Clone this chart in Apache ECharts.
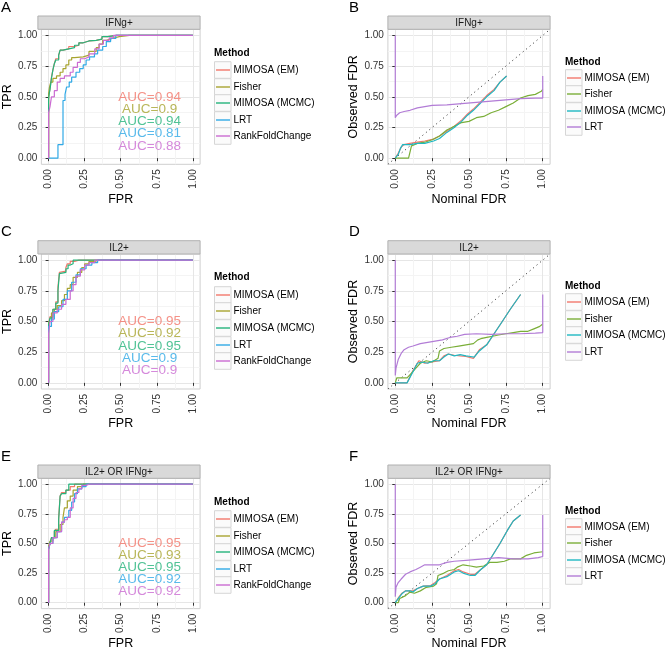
<!DOCTYPE html>
<html><head><meta charset="utf-8">
<script src="https://cdn.jsdelivr.net/npm/echarts@6/dist/echarts.min.js"></script>
<style>html,body{margin:0;padding:0;background:#fff}#c{width:666px;height:651px}</style>
</head><body><div id="c"></div>
<script>
const FONT = '"Liberation Sans", Arial, Helvetica, sans-serif';

// ---------- data ----------
const tickValues = [0, 0.25, 0.5, 0.75, 1];
const tickLabels = ['0.00', '0.25', '0.50', '0.75', '1.00'];
const minorValues = [0.125, 0.375, 0.625, 0.875];
const panelTitles = ['IFNg+', 'IL2+', 'IL2+ OR IFNg+'];
const panelLetters = [['A', 'B'], ['C', 'D'], ['E', 'F']];
const rocMethods = ['MIMOSA (EM)', 'Fisher', 'MIMOSA (MCMC)', 'LRT', 'RankFoldChange'];
const fdrMethods = ['MIMOSA (EM)', 'Fisher', 'MIMOSA (MCMC)', 'LRT'];
const rocColors = ['#F2776A', '#A8A430', '#25B47C', '#30A9E6', '#CB6BD2'];
const fdrColors = ['#F2776C', '#7AAE38', '#1FB8C2', '#B27CD6'];
const aucIFNg = [0.94, 0.9, 0.94, 0.81, 0.88];
const aucIL2 = [0.95, 0.92, 0.95, 0.9, 0.9];
const aucAny = [0.95, 0.93, 0.95, 0.92, 0.92];
const aucX = 0.7;
const aucY = [0.5, 0.4, 0.3, 0.2, 0.1];
const identityLine = [-0.05, 1.05];

// ROC curves [FPR, TPR]
const rocIFNg_EM = [[0,0],[0,0.37],[0.005,0.5],[0.01,0.53],[0.02,0.57],[0.03,0.66],[0.04,0.72],[0.05,0.77],[0.07,0.81],[0.08,0.84],[0.1,0.88],[0.14,0.89],[0.18,0.91],[0.21,0.92],[0.24,0.94],[0.28,0.955],[0.33,0.96],[0.37,0.97],[0.41,0.99],[0.47,1],[1,1]];
const rocIFNg_Fisher = [[0,0],[0,0.45],[0.005,0.52],[0.015,0.57],[0.03,0.62],[0.055,0.65],[0.08,0.67],[0.1,0.7],[0.12,0.73],[0.14,0.76],[0.16,0.8],[0.18,0.82],[0.24,0.825],[0.28,0.84],[0.33,0.87],[0.35,0.9],[0.375,0.93],[0.4,0.96],[0.44,0.975],[0.49,0.99],[0.56,1],[1,1]];
const rocIFNg_MCMC = [[0,0],[0,0.35],[0.005,0.48],[0.01,0.53],[0.02,0.56],[0.03,0.65],[0.04,0.72],[0.05,0.77],[0.07,0.8],[0.08,0.84],[0.1,0.88],[0.14,0.89],[0.18,0.9],[0.21,0.92],[0.24,0.94],[0.28,0.955],[0.33,0.96],[0.37,0.97],[0.41,0.99],[0.47,1],[1,1]];
const rocIFNg_LRT = [[0,0],[0.065,0],[0.065,0.11],[0.1,0.11],[0.1,0.42],[0.114,0.47],[0.125,0.52],[0.143,0.58],[0.16,0.62],[0.19,0.66],[0.216,0.7],[0.24,0.73],[0.26,0.76],[0.284,0.8],[0.318,0.825],[0.34,0.85],[0.375,0.88],[0.4,0.91],[0.43,0.95],[0.466,0.975],[0.49,1],[1,1]];
const rocIFNg_Rank = [[0,0],[0,0.32],[0.01,0.37],[0.02,0.42],[0.04,0.5],[0.06,0.55],[0.08,0.62],[0.11,0.65],[0.15,0.67],[0.17,0.7],[0.2,0.74],[0.22,0.78],[0.25,0.81],[0.28,0.825],[0.32,0.85],[0.35,0.89],[0.38,0.93],[0.42,0.96],[0.45,0.98],[0.53,1],[1,1]];

const rocIL2_EM = [[0,0],[0,0.45],[0.01,0.48],[0.03,0.54],[0.05,0.6],[0.065,0.66],[0.075,0.78],[0.085,0.9],[0.12,0.91],[0.13,0.94],[0.15,0.97],[0.18,0.99],[0.21,1],[1,1]];
const rocIL2_Fisher = [[0,0],[0,0.45],[0.02,0.5],[0.04,0.57],[0.06,0.6],[0.09,0.63],[0.11,0.67],[0.13,0.72],[0.15,0.77],[0.17,0.8],[0.2,0.86],[0.23,0.9],[0.25,0.94],[0.28,0.97],[0.32,0.99],[0.35,1],[1,1]];
const rocIL2_MCMC = [[0,0],[0,0.47],[0.01,0.48],[0.03,0.53],[0.05,0.6],[0.065,0.65],[0.075,0.75],[0.08,0.89],[0.12,0.9],[0.135,0.93],[0.15,0.96],[0.17,0.97],[0.21,1],[1,1]];
const rocIL2_LRT = [[0,0],[0,0.4],[0.02,0.46],[0.04,0.52],[0.07,0.58],[0.1,0.62],[0.13,0.68],[0.16,0.75],[0.19,0.82],[0.22,0.88],[0.26,0.93],[0.3,0.96],[0.34,0.98],[0.37,1],[1,1]];
const rocIL2_Rank = [[0,0],[0,0.3],[0.01,0.4],[0.03,0.5],[0.06,0.57],[0.09,0.6],[0.12,0.64],[0.15,0.68],[0.17,0.75],[0.19,0.8],[0.22,0.87],[0.25,0.92],[0.28,0.96],[0.32,0.98],[0.37,1],[1,1]];

const rocAny_EM = [[0,0],[0,0.42],[0.01,0.46],[0.02,0.5],[0.04,0.55],[0.05,0.6],[0.07,0.62],[0.08,0.72],[0.09,0.9],[0.12,0.93],[0.15,0.95],[0.18,0.98],[0.2,1],[1,1]];
const rocAny_Fisher = [[0,0],[0,0.42],[0.01,0.48],[0.03,0.52],[0.05,0.55],[0.08,0.6],[0.1,0.66],[0.11,0.72],[0.13,0.8],[0.15,0.86],[0.17,0.9],[0.2,0.95],[0.24,0.98],[0.27,1],[1,1]];
const rocAny_MCMC = [[0,0],[0,0.4],[0.01,0.45],[0.02,0.5],[0.04,0.55],[0.05,0.61],[0.07,0.61],[0.08,0.7],[0.09,0.9],[0.12,0.92],[0.14,0.95],[0.19,1],[1,1]];
const rocAny_LRT = [[0,0],[0,0.38],[0.01,0.45],[0.03,0.5],[0.06,0.55],[0.09,0.6],[0.11,0.68],[0.14,0.72],[0.16,0.78],[0.18,0.85],[0.2,0.92],[0.23,0.96],[0.26,0.98],[0.34,1],[1,1]];
const rocAny_Rank = [[0,0],[0,0.35],[0.01,0.45],[0.03,0.5],[0.06,0.55],[0.09,0.6],[0.11,0.68],[0.13,0.7],[0.15,0.72],[0.17,0.8],[0.19,0.88],[0.21,0.93],[0.23,0.96],[0.26,0.99],[0.28,1],[1,1]];

// FDR curves [nominal, observed]
const fdrIFNg_EM = [[0,0],[0.02,0.04],[0.04,0.09],[0.06,0.11],[0.1,0.12],[0.15,0.13],[0.2,0.14],[0.26,0.155],[0.3,0.18],[0.35,0.22],[0.4,0.26],[0.45,0.31],[0.49,0.36],[0.53,0.4],[0.58,0.46],[0.62,0.51],[0.67,0.56],[0.71,0.62],[0.755,0.67]];
const fdrIFNg_Fisher = [[0,0],[0.09,0],[0.11,0.1],[0.15,0.12],[0.2,0.13],[0.25,0.15],[0.3,0.18],[0.35,0.23],[0.4,0.26],[0.45,0.29],[0.5,0.3],[0.55,0.33],[0.6,0.34],[0.65,0.37],[0.7,0.39],[0.75,0.42],[0.8,0.45],[0.85,0.49],[0.9,0.51],[0.95,0.52],[0.99,0.545],[1,0.56]];
const fdrIFNg_MCMC = [[0,0],[0.02,0.03],[0.035,0.08],[0.05,0.11],[0.1,0.11],[0.15,0.12],[0.2,0.12],[0.26,0.14],[0.3,0.16],[0.35,0.21],[0.4,0.25],[0.45,0.3],[0.49,0.35],[0.53,0.39],[0.58,0.45],[0.62,0.5],[0.67,0.55],[0.71,0.62],[0.755,0.67]];
const fdrIFNg_LRT = [[0,1],[0,0.33],[0.01,0.35],[0.03,0.37],[0.06,0.38],[0.1,0.39],[0.15,0.41],[0.2,0.42],[0.25,0.43],[0.35,0.435],[0.45,0.445],[0.55,0.455],[0.65,0.465],[0.75,0.475],[0.85,0.485],[0.95,0.49],[1,0.49],[1,0.67]];

const fdrIL2_EM = [[0,0],[0.08,0],[0.12,0.1],[0.16,0.18],[0.2,0.16],[0.25,0.17],[0.3,0.18],[0.33,0.22],[0.36,0.235],[0.4,0.225],[0.44,0.22],[0.48,0.215],[0.53,0.2],[0.57,0.27],[0.62,0.31],[0.67,0.4],[0.72,0.49],[0.78,0.6],[0.85,0.72]];
const fdrIL2_Fisher = [[0,0],[0.01,0.04],[0.08,0.04],[0.11,0.08],[0.14,0.12],[0.17,0.16],[0.21,0.18],[0.25,0.17],[0.29,0.2],[0.3,0.26],[0.33,0.28],[0.38,0.29],[0.43,0.3],[0.48,0.31],[0.53,0.32],[0.56,0.35],[0.58,0.36],[0.62,0.37],[0.66,0.38],[0.7,0.39],[0.75,0.4],[0.8,0.41],[0.85,0.42],[0.9,0.42],[0.94,0.44],[0.98,0.46],[1,0.48]];
const fdrIL2_MCMC = [[0,0],[0.08,0],[0.12,0.09],[0.15,0.16],[0.18,0.17],[0.22,0.16],[0.26,0.18],[0.3,0.18],[0.33,0.21],[0.36,0.235],[0.4,0.22],[0.44,0.23],[0.48,0.22],[0.51,0.215],[0.535,0.21],[0.57,0.26],[0.62,0.31],[0.67,0.4],[0.72,0.49],[0.78,0.6],[0.85,0.72]];
const fdrIL2_LRT = [[0,1],[0,0.06],[0.005,0.12],[0.02,0.19],[0.04,0.24],[0.06,0.27],[0.09,0.29],[0.12,0.3],[0.17,0.32],[0.22,0.33],[0.27,0.34],[0.32,0.35],[0.37,0.37],[0.42,0.38],[0.47,0.395],[0.55,0.4],[0.65,0.395],[0.75,0.4],[0.85,0.4],[0.95,0.405],[1,0.41],[1,0.72]];

const fdrAny_EM = [[0,0],[0.02,0.04],[0.045,0.08],[0.07,0.1],[0.1,0.1],[0.12,0.1],[0.15,0.12],[0.19,0.14],[0.24,0.145],[0.27,0.17],[0.3,0.2],[0.35,0.23],[0.4,0.27],[0.43,0.28],[0.46,0.26],[0.51,0.24],[0.54,0.24],[0.58,0.28],[0.62,0.32],[0.67,0.42],[0.71,0.5],[0.76,0.61],[0.8,0.69],[0.85,0.74]];
const fdrAny_Fisher = [[0,0],[0.02,0],[0.03,0.035],[0.07,0.06],[0.1,0.09],[0.13,0.08],[0.17,0.1],[0.21,0.13],[0.26,0.14],[0.28,0.16],[0.29,0.23],[0.33,0.25],[0.36,0.27],[0.4,0.28],[0.42,0.3],[0.46,0.32],[0.51,0.31],[0.55,0.3],[0.6,0.31],[0.64,0.34],[0.69,0.34],[0.74,0.35],[0.78,0.37],[0.85,0.37],[0.89,0.4],[0.94,0.42],[1,0.43]];
const fdrAny_MCMC = [[0,0],[0.02,0.035],[0.045,0.075],[0.07,0.1],[0.1,0.1],[0.12,0.09],[0.15,0.12],[0.19,0.14],[0.24,0.14],[0.27,0.16],[0.3,0.2],[0.35,0.22],[0.4,0.26],[0.43,0.27],[0.46,0.25],[0.51,0.23],[0.54,0.23],[0.58,0.28],[0.62,0.32],[0.67,0.42],[0.71,0.5],[0.76,0.61],[0.8,0.69],[0.85,0.74]];
const fdrAny_LRT = [[0,1],[0,0.05],[0.005,0.13],[0.02,0.17],[0.04,0.2],[0.07,0.24],[0.1,0.26],[0.14,0.28],[0.17,0.3],[0.2,0.32],[0.25,0.32],[0.3,0.32],[0.35,0.34],[0.4,0.35],[0.5,0.36],[0.6,0.37],[0.7,0.38],[0.8,0.37],[0.9,0.37],[0.97,0.38],[1,0.39],[1,0.74]];

const rocPanels = [
  [rocIFNg_EM, rocIFNg_Fisher, rocIFNg_MCMC, rocIFNg_LRT, rocIFNg_Rank],
  [rocIL2_EM, rocIL2_Fisher, rocIL2_MCMC, rocIL2_LRT, rocIL2_Rank],
  [rocAny_EM, rocAny_Fisher, rocAny_MCMC, rocAny_LRT, rocAny_Rank]
];
const fdrPanels = [
  [fdrIFNg_EM, fdrIFNg_Fisher, fdrIFNg_MCMC, fdrIFNg_LRT],
  [fdrIL2_EM, fdrIL2_Fisher, fdrIL2_MCMC, fdrIL2_LRT],
  [fdrAny_EM, fdrAny_Fisher, fdrAny_MCMC, fdrAny_LRT]
];
const aucPanels = [aucIFNg, aucIL2, aucAny];

// ---------- layout ----------
const colLeft = [37.9, 387.9];
const panelW = 162.2;
const rowTop = [16, 240.7, 465];
const stripH = 13.3;
const panelH = 135;
const axisNames = [['FPR', 'TPR'], ['Nominal FDR', 'Observed FDR']];

const grids = [], xAxes = [], yAxes = [], series = [], graphics = [];
let gid = 0;
const fmt = v => { const i = tickValues.indexOf(v); return i >= 0 ? tickLabels[i] : v.toFixed(2); };

function addAxes(g, col) {
  const common = { gridIndex: g, type: 'value', min: identityLine[0], max: identityLine[1] };
  xAxes.push(Object.assign({}, common, {
    position: 'bottom',
    axisLine: { show: false },
    axisTick: { show: true, length: 3, lineStyle: { color: '#333' }, customValues: tickValues },
    axisLabel: { show: true, rotate: 90, fontSize: 10, fontFamily: FONT, color: '#333', margin: 5, customValues: tickValues, formatter: fmt },
    splitLine: { show: true, lineStyle: { color: '#E6E6E6', width: 1 } },
    name: axisNames[col][0], nameLocation: 'middle', nameGap: 28,
    nameTextStyle: { fontSize: 12.5, fontFamily: FONT, color: '#000', verticalAlign: 'top' }
  }));
  xAxes.push(Object.assign({}, common, {
    position: 'top', axisLine: { show: false },
    axisTick: { show: false, customValues: minorValues },
    axisLabel: { show: false, customValues: minorValues },
    splitLine: { show: true, lineStyle: { color: '#F4F4F4', width: 1 } }
  }));
  yAxes.push(Object.assign({}, common, {
    position: 'left',
    axisLine: { show: false },
    axisTick: { show: true, length: 3, lineStyle: { color: '#333' }, customValues: tickValues },
    axisLabel: { show: true, fontSize: 10, fontFamily: FONT, color: '#333', margin: 4, customValues: tickValues, formatter: fmt },
    splitLine: { show: true, lineStyle: { color: '#E6E6E6', width: 1 } },
    name: axisNames[col][1], nameLocation: 'middle', nameGap: 26,
    nameTextStyle: { fontSize: 12.5, fontFamily: FONT, color: '#000' }
  }));
  yAxes.push(Object.assign({}, common, {
    position: 'right', axisLine: { show: false },
    axisTick: { show: false, customValues: minorValues },
    axisLabel: { show: false, customValues: minorValues },
    splitLine: { show: true, lineStyle: { color: '#F4F4F4', width: 1 } }
  }));
}

function g(el) { el.id = 'g' + (gid++); graphics.push(el); }

function addLegend(x, yTitle, names, colors, firstOff, step) {
  g({ type: 'text', z: 110, x: x, y: yTitle, style: { text: 'Method', font: 'bold 10px ' + FONT, fill: '#000', verticalAlign: 'middle' } });
  names.forEach((n, i) => {
    const cy = Math.round(yTitle + firstOff + i * step);
    g({ type: 'rect', z: 100, shape: { x: x + 0.5, y: cy - step / 2, width: 16.5, height: step }, style: { fill: '#FBFBFB', stroke: '#D6D6D6', lineWidth: 1 } });
    g({ type: 'rect', z: 105, shape: { x: x + 2, y: cy - 0.7, width: 14, height: 1.4 }, style: { fill: colors[i], stroke: null, lineWidth: 0 } });
    g({ type: 'text', z: 110, x: x + 19.5, y: cy, style: { text: n, font: '10px ' + FONT, fill: '#000', verticalAlign: 'middle' } });
  });
}

for (let r = 0; r < 3; r++) {
  for (let col = 0; col < 2; col++) {
    const gi = r * 2 + col;
    const top = rowTop[r] + stripH;
    grids.push({ left: colLeft[col], top: top, width: panelW, height: panelH, show: true, backgroundColor: '#FFFFFF', borderColor: '#CFCFCF', borderWidth: 1 });
    addAxes(gi, col);
    // strip
    g({ type: 'rect', z: 100, shape: { x: colLeft[col], y: rowTop[r], width: panelW, height: stripH }, style: { fill: '#D9D9D9', stroke: '#B0B0B0', lineWidth: 1 } });
    g({ type: 'text', z: 110, x: colLeft[col] + panelW / 2, y: rowTop[r] + stripH / 2 + 0.5, style: { text: panelTitles[r], font: '10px ' + FONT, fill: '#1A1A1A', align: 'center', verticalAlign: 'middle' } });
    // panel letter
    g({ type: 'text', z: 110, x: col === 0 ? 1 : 349, y: rowTop[r] - 1, style: { text: panelLetters[r][col], font: '15px ' + FONT, fill: '#000', verticalAlign: 'bottom' } });
    const xi = 2 * gi, yi = 2 * gi;
    if (col === 0) {
      rocPanels[r].forEach((d, i) => series.push({
        type: 'line', name: rocMethods[i], xAxisIndex: xi, yAxisIndex: yi, data: d, step: 'start',
        symbol: 'none', showSymbol: false, silent: true, z: 3 + i,
        lineStyle: { color: rocColors[i], width: 1.2 }, itemStyle: { color: rocColors[i] }
      }));
      series.push({
        type: 'scatter', xAxisIndex: xi, yAxisIndex: yi, symbolSize: 1, silent: true, z: 20,
        itemStyle: { color: 'rgba(0,0,0,0)' },
        label: { show: true, position: 'inside', fontSize: 13.5, fontFamily: FONT },
        data: aucPanels[r].map((a, i) => ({ value: [aucX, aucY[i]], label: { formatter: 'AUC=' + a, color: rocColors[i] } }))
      });
      addLegend(214, rowTop[r] + 37, rocMethods, rocColors, 17, 16.6);
    } else {
      series.push({
        type: 'line', xAxisIndex: xi, yAxisIndex: yi, symbol: 'none', silent: true, z: 2,
        data: [[identityLine[0], identityLine[0]], [identityLine[1], identityLine[1]]],
        lineStyle: { color: '#222', width: 1, type: [1, 3.5] }
      });
      fdrPanels[r].forEach((d, i) => series.push({
        type: 'line', name: fdrMethods[i], xAxisIndex: xi, yAxisIndex: yi, data: d,
        symbol: 'none', showSymbol: false, silent: true, z: 3 + i,
        lineStyle: { color: fdrColors[i], width: 1.2 }, itemStyle: { color: fdrColors[i] }
      }));
      addLegend(565, rowTop[r] + 46, fdrMethods, fdrColors, 15.5, 16.6);
    }
  }
}

const chart = echarts.init(document.getElementById('c'), null, { renderer: 'canvas' });
chart.setOption({
  animation: false,
  backgroundColor: '#FFFFFF',
  textStyle: { fontFamily: FONT },
  grid: grids, xAxis: xAxes, yAxis: yAxes, series: series,
  graphic: { elements: graphics }
});
</script></body></html>
